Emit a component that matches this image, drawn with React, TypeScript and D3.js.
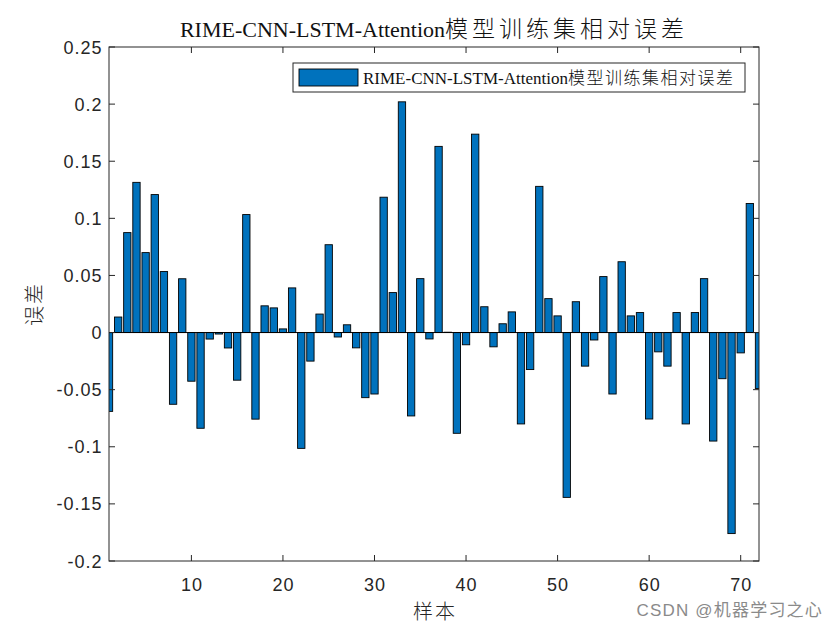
import React, { useEffect, useRef } from 'react';
import * as d3 from 'd3';

const TITLE = 'RIME-CNN-LSTM-Attention模型训练集相对误差';
const LEGEND_LABEL = 'RIME-CNN-LSTM-Attention模型训练集相对误差';
const X_LABEL = '样本';
const Y_LABEL = '误差';
const WATERMARK = 'CSDN @机器学习之心';

// relative error per training sample (samples 1..72)
const errors = [
  -0.069, 0.0136, 0.0875, 0.1315, 0.070, 0.1208, 0.0534, -0.0628, 0.0471, -0.0426,
  -0.0838, -0.0057, -0.0013, -0.0135, -0.0417, 0.1033, -0.0758, 0.0234, 0.0216, 0.0032,
  0.0391, -0.1014, -0.025, 0.0162, 0.0769, -0.0039, 0.0068, -0.0134, -0.057, -0.0538,
  0.1185, 0.035, 0.202, -0.073, 0.0472, -0.0056, 0.163, 0.0003, -0.0882, -0.0107,
  0.1737, 0.0226, -0.0125, 0.0077, 0.0181, -0.080, -0.0324, 0.128, 0.0297, 0.0146,
  -0.1443, 0.027, -0.0294, -0.0065, 0.049, -0.0538, 0.062, 0.0146, 0.0175, -0.0757,
  -0.0169, -0.0294, 0.0175, -0.080, 0.0175, 0.0472, -0.095, -0.0404, -0.176, -0.0178,
  0.113, -0.049,
];
const samples = errors.map((_, i) => i + 1);

const xTicks = [10, 20, 30, 40, 50, 60, 70];
const yTicks = [-0.2, -0.15, -0.1, -0.05, 0, 0.05, 0.1, 0.15, 0.2, 0.25];

const BAR_COLOR = '#0072BD';
const SERIF = '"Liberation Serif", "Times New Roman", serif';
const SANS = '"Liberation Sans", Arial, "Noto Sans CJK SC", sans-serif';
const CJK = '"Noto Sans CJK SC", sans-serif';

// split "latin part" + "chinese part" so each gets its own font
function splitMixed(s: string): [string, string] {
  const i = s.search(/[\u4e00-\u9fff]/);
  return i < 0 ? [s, ''] : [s.slice(0, i), s.slice(i)];
}

const App: React.FC = () => {
  const svgRef = useRef<SVGSVGElement>(null);

  useEffect(() => {
    if (!svgRef.current) return;
    const width = 840;
    const height = 630;
    const margin = { top: 47, right: 81, bottom: 69, left: 109 };
    const iw = width - margin.left - margin.right;
    const ih = height - margin.top - margin.bottom;

    const svg = d3.select(svgRef.current);
    svg.selectAll('*').remove();

    svg.append('rect').attr('width', width).attr('height', height).attr('fill', '#fff');

    const x = d3.scaleLinear().domain([1, 72]).range([0, iw]);
    const y = d3.scaleLinear().domain([-0.2, 0.25]).range([ih, 0]);
    const bw = (x(2) - x(1)) * 0.8;

    svg.append('defs').append('clipPath').attr('id', 'plot-clip')
      .append('rect').attr('width', iw).attr('height', ih);

    const g = svg.append('g').attr('transform', `translate(${margin.left},${margin.top})`);

    // bars
    g.append('g').attr('clip-path', 'url(#plot-clip)')
      .selectAll('rect')
      .data(samples)
      .enter().append('rect')
      .attr('x', d => x(d) - bw / 2)
      .attr('width', bw)
      .attr('y', (d, i) => y(Math.max(0, errors[i])))
      .attr('height', (d, i) => Math.abs(y(errors[i]) - y(0)))
      .attr('fill', BAR_COLOR)
      .attr('stroke', '#000')
      .attr('stroke-width', 0.9);

    // baseline
    g.append('line')
      .attr('x1', 0).attr('x2', iw)
      .attr('y1', y(0)).attr('y2', y(0))
      .attr('stroke', '#000').attr('stroke-width', 1);

    // ticks (inward, both sides)
    const tl = 6;
    const ticks = g.append('g').attr('stroke', '#262626').attr('stroke-width', 1);
    xTicks.forEach(t => {
      ticks.append('line').attr('x1', x(t)).attr('x2', x(t)).attr('y1', ih).attr('y2', ih - tl);
      ticks.append('line').attr('x1', x(t)).attr('x2', x(t)).attr('y1', 0).attr('y2', tl);
    });
    yTicks.forEach(t => {
      ticks.append('line').attr('x1', 0).attr('x2', tl).attr('y1', y(t)).attr('y2', y(t));
      ticks.append('line').attr('x1', iw).attr('x2', iw - tl).attr('y1', y(t)).attr('y2', y(t));
    });

    // box
    g.append('rect')
      .attr('width', iw).attr('height', ih)
      .attr('fill', 'none').attr('stroke', '#262626').attr('stroke-width', 1);

    // tick labels
    g.append('g').selectAll('text')
      .data(xTicks)
      .enter().append('text')
      .attr('x', d => x(d) + 0.5)
      .attr('y', ih + 29.5)
      .attr('text-anchor', 'middle')
      .style('font-family', SANS)
      .style('font-size', '18px')
      .style('letter-spacing', '1px')
      .style('fill', '#262626')
      .text(d => String(d));

    g.append('g').selectAll('text')
      .data(yTicks)
      .enter().append('text')
      .attr('x', -6.5)
      .attr('y', d => y(d) + 6.5)
      .attr('text-anchor', 'end')
      .style('font-family', SANS)
      .style('font-size', '18px')
      .style('letter-spacing', '1px')
      .style('fill', '#262626')
      .text(d => String(+d.toFixed(2)));

    // title
    const [tLat, tCjk] = splitMixed(TITLE);
    const title = svg.append('text')
      .attr('x', margin.left + iw / 2)
      .attr('y', 37)
      .attr('text-anchor', 'middle')
      .style('fill', '#111');
    title.append('tspan').style('font-family', SERIF).style('font-size', '22px').text(tLat);
    title.append('tspan').style('font-family', CJK).style('font-size', '23px')
      .style('letter-spacing', '4px').style('font-weight', '300').text(tCjk);

    // axis labels
    svg.append('text')
      .attr('x', margin.left + iw / 2 + 1)
      .attr('y', 619)
      .attr('text-anchor', 'middle')
      .style('font-family', CJK)
      .style('font-size', '20px')
      .style('letter-spacing', '2px')
      .style('font-weight', '300')
      .style('fill', '#262626')
      .text(X_LABEL);

    svg.append('text')
      .attr('transform', `translate(42,${margin.top + ih / 2}) rotate(-90)`)
      .attr('text-anchor', 'middle')
      .style('font-family', CJK)
      .style('font-size', '20px')
      .style('letter-spacing', '2px')
      .style('font-weight', '300')
      .style('fill', '#262626')
      .text(Y_LABEL);

    // legend
    const lg = svg.append('g').attr('transform', 'translate(293,63)');
    lg.append('rect')
      .attr('width', 452).attr('height', 29)
      .attr('fill', '#fff').attr('stroke', '#262626').attr('stroke-width', 1);
    lg.append('rect')
      .attr('x', 6).attr('y', 6).attr('width', 59).attr('height', 17)
      .attr('fill', BAR_COLOR).attr('stroke', '#000').attr('stroke-width', 0.9);
    const [lLat, lCjk] = splitMixed(LEGEND_LABEL);
    const lt = lg.append('text').attr('x', 70).attr('y', 21).style('fill', '#111');
    lt.append('tspan').style('font-family', SERIF).style('font-size', '17px').text(lLat);
    lt.append('tspan').style('font-family', CJK).style('font-size', '17px')
      .style('letter-spacing', '1.5px').style('font-weight', '300').text(lCjk);

    // watermark
    svg.append('text')
      .attr('x', 823)
      .attr('y', 616)
      .attr('text-anchor', 'end')
      .style('font-family', SANS)
      .style('font-size', '17px')
      .style('letter-spacing', '1.2px')
      .style('fill', '#8a8a8a')
      .text(WATERMARK);
  }, []);

  return (
    <div style={{ position: 'absolute', left: 0, top: 0 }}>
      <svg ref={svgRef} width="840" height="630" viewBox="0 0 840 630"></svg>
    </div>
  );
};

export default App;
